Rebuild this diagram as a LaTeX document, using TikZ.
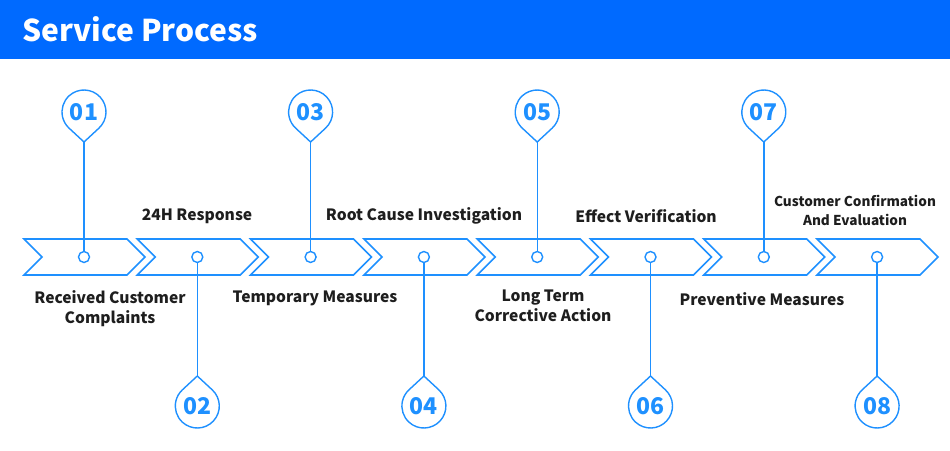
\documentclass[tikz,border=0pt]{standalone}
\usepackage{fontspec}
\setmainfont{Noto Sans CJK SC}
\definecolor{barblue}{RGB}{0,106,255}
\definecolor{lineblue}{RGB}{30,144,255}
\definecolor{txt}{RGB}{30,30,30}
\begin{document}
\begin{tikzpicture}[x=1pt,y=-1pt,
  chev/.style={draw=lineblue, line width=1.6pt, line join=miter},
  dot/.style={circle, draw=lineblue, line width=1.4pt, fill=white, minimum size=11pt, inner sep=0pt},
  pinline/.style={draw=lineblue, line width=1.4pt},
  num/.style={text=lineblue, font=\fontsize{23}{23}\selectfont\bfseries, inner sep=0pt},
  lab/.style={text=txt, font=\fontsize{15.6}{20}\selectfont\bfseries, align=center},
  smalllab/.style={text=txt, font=\fontsize{13.6}{19}\selectfont\bfseries, align=center}]
\useasboundingbox (0,0) rectangle (950,450);
\fill[barblue] (0,0) rectangle (950,59);
\node[anchor=west, text=white, font=\fontsize{30}{30}\selectfont\bfseries] (title) at (19,29) {Service Process};
% chevrons
\foreach \i in {0,...,7}{
  \pgfmathsetmacro\xa{24+113.3*\i}
  \draw[chev] (\xa,239) -- ++(103,0) -- ++(18,18) -- ++(-18,18) -- ++(-103,0) -- ++(18,-18) -- cycle;
  \node[dot] (d\i) at (\xa+60,257) {};
}
% top pins
\foreach \i/\n in {0/01,2/03,4/05,6/07}{
  \pgfmathsetmacro\xc{84+113.3*\i}
  \node[num] (p\i) at (\xc,112) {\n};
  \coordinate (t\i) at (\xc,142);
  \draw[pinline] (t\i) -- ([shift={(47.2:22)}]p\i.center) arc[start angle=47.2, end angle=-227.2, radius=22] -- cycle;
  \draw[pinline] (t\i) -- (d\i.north);
}
% bottom pins
\foreach \i/\n in {1/02,3/04,5/06,7/08}{
  \pgfmathsetmacro\xc{84+113.3*\i}
  \node[num] (p\i) at (\xc,406) {\n};
  \coordinate (t\i) at (\xc,376);
  \draw[pinline] (t\i) -- ([shift={(-47.2:22)}]p\i.center) arc[start angle=-47.2, end angle=227.2, radius=22] -- cycle;
  \draw[pinline] (d\i.south) -- (t\i);
}
% labels
\node[lab] (l2) at (197,216) {24H Response};
\node[lab] (l4) at (424,216) {Root Cause Investigation};
\node[lab] (l6) at (646,216) {Effect Verification};
\node[smalllab] (l8) at (855,210) {Customer Confirmation\\And Evaluation};
\node[lab] (l1) at (110,309) {Received Customer\\Complaints};
\node[lab] (l3) at (315,298) {Temporary Measures};
\node[lab] (l5) at (543,306) {Long Term\\Corrective Action};
\node[lab] (l7) at (762,299) {Preventive Measures};
\end{tikzpicture}
\end{document}
